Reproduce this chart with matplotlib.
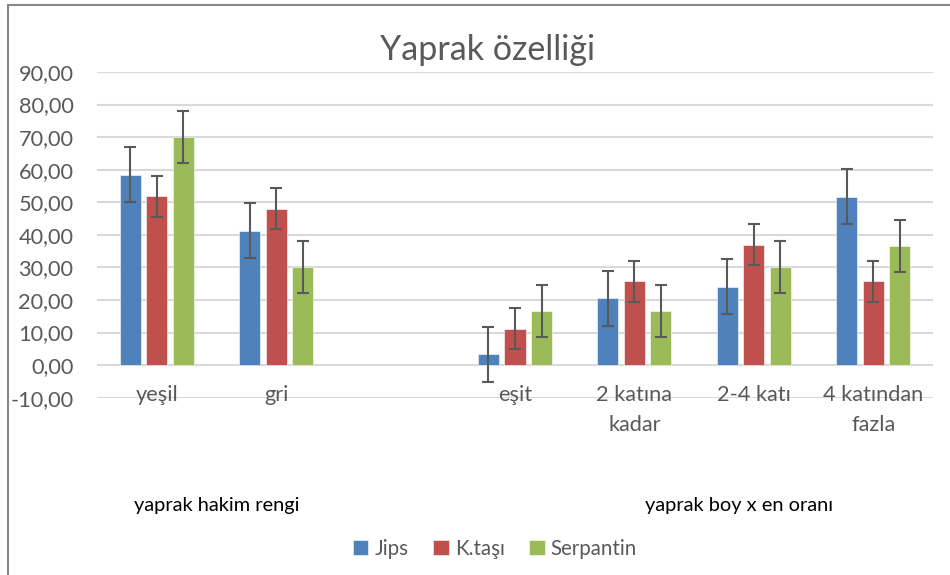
import numpy as np
import matplotlib.pyplot as plt
from matplotlib.patches import Rectangle
from matplotlib.transforms import blended_transform_factory

plt.rcParams['font.family'] = ['Lato', 'DejaVu Sans']

categories = ['yeşil', 'gri', '', 'eşit', '2 katına\nkadar', '2-4 katı', '4 katından\nfazla']
series = ['Jips', 'K.taşı', 'Serpantin']
jips = [58.5, 41.2, np.nan, 3.4, 20.6, 24.1, 51.7]
ktasi = [51.8, 48.0, np.nan, 11.1, 25.8, 37.0, 25.8]
serpantin = [70.0, 30.0, np.nan, 16.7, 16.7, 30.0, 36.6]
jips_err = [8.45] * 7
ktasi_err = [6.3] * 7
serpantin_err = [8.0] * 7
group_labels = ['yaprak hakim rengi', 'yaprak boy x en oranı']
colors = ['#4F81BD', '#C0504D', '#9BBB59']

fig = plt.figure(figsize=(9.5, 5.75), dpi=100)
ax = fig.add_axes([97 / 950, 1 - 397.7 / 575, (933 - 97) / 950, (397.7 - 72) / 575])

x = np.arange(len(categories))
width = 0.176
step = 0.222
for i, (vals, errs, c, name) in enumerate(zip([jips, ktasi, serpantin],
                                             [jips_err, ktasi_err, serpantin_err],
                                             colors, series)):
    pos = x + (i - 1) * step
    ax.bar(pos, vals, width, color=c, label=name, edgecolor='white', linewidth=0.4, zorder=2)
    ax.errorbar(pos, vals, yerr=errs, fmt='none', ecolor='#595959', elinewidth=1.5,
                capsize=4.3, capthick=1.5, zorder=3)

ax.set_xlim(-0.5, len(categories) - 0.5)
ax.set_ylim(-10, 90)
ax.set_yticks(np.arange(-10, 91, 10))
ax.set_yticklabels([f'{v:.2f}'.replace('.', ',') for v in np.arange(-10, 91, 10)])
ax.tick_params(axis='y', length=0, pad=17, labelsize=15.7, labelcolor='#595959')
ax.set_xticks([])
ax.grid(axis='y', color='#D9D9D9', linewidth=1.5, zorder=0)
for s in ax.spines.values():
    s.set_visible(False)

trans = blended_transform_factory(ax.transData, ax.transAxes)
for xi, lab in zip(x, categories):
    ax.text(xi, 0.04, lab, transform=trans, ha='center', va='top', fontsize=15.7,
            color='#595959', linespacing=1.65)

ax.text(0.5, -0.33, group_labels[0], transform=trans, ha='center', va='center',
        fontsize=14.4, color='black')
ax.text(4.88, -0.33, group_labels[1], transform=trans, ha='center', va='center',
        fontsize=14.4, color='black')

fig.text(488 / 950, 1 - 50 / 575, 'Yaprak özelliği', ha='center', va='center',
         fontsize=24.5, color='#595959')

fig.legend(loc='center', bbox_to_anchor=(495 / 950, 1 - 549 / 575), ncol=3, frameon=False,
           fontsize=14.8, labelcolor='#595959', handlelength=0.75, handleheight=0.75,
           handletextpad=0.3, columnspacing=1.2)

fig.patches.append(Rectangle((8 / 950, -0.05), 1.1, 1 - 5 / 575 + 0.05,
                             transform=fig.transFigure, fill=False,
                             edgecolor='#878787', linewidth=1.5))

fig.savefig('out.png', dpi=100)
